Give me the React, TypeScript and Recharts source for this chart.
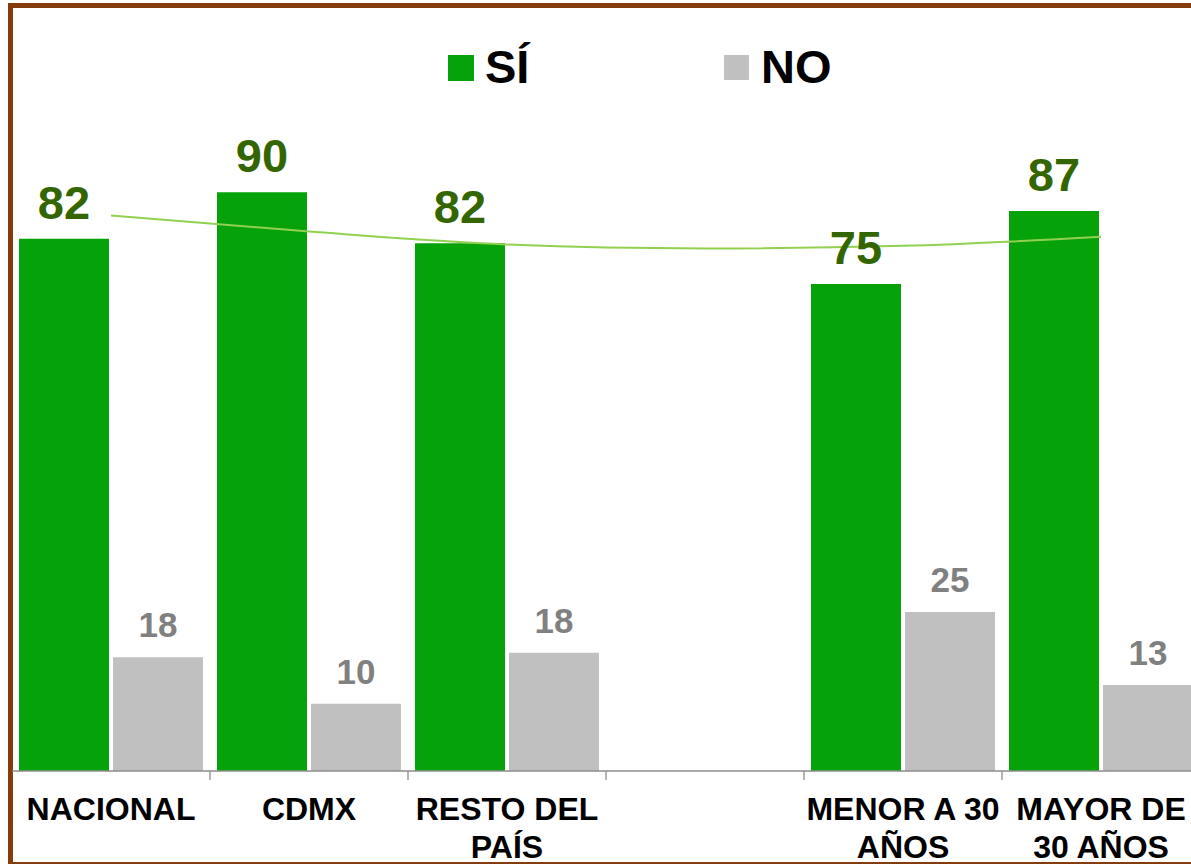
import React from 'react';
import { ComposedChart, Bar, Line, XAxis, YAxis, LabelList } from 'recharts';

// categories (the empty one is the spacer between region and age groups)
const categories = ['NACIONAL', 'CDMX', 'RESTO DEL PAÍS', '', 'MENOR A 30 AÑOS', 'MAYOR DE 30 AÑOS'];
const siValues = [82.4, 89.6, 81.7, null, 75.4, 86.7];
const noValues = [17.6, 10.4, 18.3, null, 24.6, 13.3];
// polynomial trendline of the SÍ series, read at each category centre
const trendValues = [86.0, 83.5, 81.5, 80.9, 81.3, 82.7];

const data = categories.map((name, i) => ({
  name,
  si: siValues[i],
  no: noValues[i],
  trend: trendValues[i]
}));

const CHART_W = 1220;
const CHART_H = 865;
const MARGIN = { top: 125, right: 20, left: 12, bottom: 34 };
const BAND = (CHART_W - MARGIN.left - MARGIN.right) / categories.length;
const FONT = "'Liberation Sans', Arial, sans-serif";

// greedy wrap, about 10 characters per line like the original
const wrapLabel = (label: string) => {
  const lines: string[] = [];
  let cur = '';
  label.split(' ').forEach(w => {
    if (!w) return;
    if (cur && (cur + ' ' + w).length > 10) {
      lines.push(cur);
      cur = w;
    } else {
      cur = cur ? cur + ' ' + w : w;
    }
  });
  if (cur) lines.push(cur);
  return lines;
};

const CategoryTick = (props: any) => {
  const { x, y, payload, index } = props;
  const lines = wrapLabel(String(payload.value ?? ''));
  return (
    <g>
      {index > 0 && (
        <line x1={x - BAND / 2} x2={x - BAND / 2} y1={y} y2={y + 9} stroke="#8c8c8c" strokeWidth={1.3} />
      )}
      <text x={x} y={y} textAnchor="middle" fontSize={32} fontWeight="bold" fill="#000" fontFamily={FONT}>
        {lines.map((l, i) => (
          <tspan key={i} x={x} dy={i === 0 ? 49 : 38}>{l}</tspan>
        ))}
      </text>
    </g>
  );
};

const fmt = (v: any) => (v == null ? '' : String(Math.round(Number(v))));

export default function App() {
  return (
    <div style={styles.page}>
      <div style={styles.frame} />

      {/* legend */}
      <div style={{ ...styles.swatch, left: 448, top: 55, width: 26, height: 26, background: '#06A20A' }} />
      <div style={{ ...styles.legendText, left: 485 }}>SÍ</div>
      <div style={{ ...styles.swatch, left: 724, top: 55, width: 25, height: 25, background: '#C0C0C0' }} />
      <div style={{ ...styles.legendText, left: 761 }}>NO</div>

      <div style={{ position: 'absolute', left: 0, top: 0 }}>
        <ComposedChart
          width={CHART_W}
          height={CHART_H}
          data={data}
          margin={MARGIN}
          barCategoryGap={7}
          barGap={4}
          style={{ fontFamily: FONT }}
        >
          <XAxis
            dataKey="name"
            interval={0}
            height={60}
            tickSize={0}
            tickMargin={0}
            tickLine={false}
            axisLine={{ stroke: '#8c8c8c', strokeWidth: 1.3 }}
            tick={<CategoryTick />}
          />
          <YAxis hide domain={[0, 100]} allowDataOverflow />
          <Bar dataKey="si" fill="#06A20A" isAnimationActive={false}>
            <LabelList
              dataKey="si"
              position="top"
              offset={20}
              formatter={fmt}
              fill="#336600"
              fontSize={47}
              fontWeight="bold"
              fontFamily={FONT}
            />
          </Bar>
          <Bar dataKey="no" fill="#C0C0C0" isAnimationActive={false}>
            <LabelList
              dataKey="no"
              position="top"
              offset={20}
              formatter={fmt}
              fill="#808080"
              fontSize={35}
              fontWeight="bold"
              fontFamily={FONT}
            />
          </Bar>
          <Line
            type="monotone"
            dataKey="trend"
            stroke="#92D050"
            strokeWidth={2}
            dot={false}
            activeDot={false}
            isAnimationActive={false}
          />
        </ComposedChart>
      </div>
    </div>
  );
}

const styles: Record<string, React.CSSProperties> = {
  page: {
    position: 'absolute',
    left: 0,
    top: 0,
    width: 1191,
    height: 865,
    overflow: 'hidden',
    background: '#fff'
  },
  frame: {
    position: 'absolute',
    left: 8,
    top: 3,
    width: 1240,
    height: 854,
    borderLeft: '5px solid #843C0C',
    borderTop: '5px solid #843C0C',
    borderBottom: '2px solid #843C0C'
  },
  swatch: {
    position: 'absolute'
  },
  legendText: {
    position: 'absolute',
    top: 43,
    fontFamily: FONT,
    fontSize: 47,
    lineHeight: '47px',
    fontWeight: 'bold',
    color: '#000'
  }
};
